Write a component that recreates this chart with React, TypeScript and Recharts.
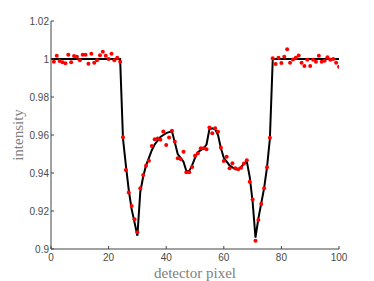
import React from 'react';
import { ComposedChart, Line, Scatter, XAxis, YAxis } from 'recharts';

const modelValues: number[] = [
  1, 1, 1, 1, 1, 1, 1, 1, 1, 1,
  1, 1, 1, 1, 1, 1, 1, 1, 1, 1,
  1, 1, 1, 1, 1, 0.958, 0.944, 0.931, 0.921, 0.914,
  0.907, 0.930, 0.938, 0.944, 0.948, 0.952, 0.955, 0.957, 0.959, 0.960,
  0.961, 0.9615, 0.962, 0.956, 0.950, 0.948, 0.946, 0.941, 0.941, 0.944,
  0.948, 0.951, 0.952, 0.953, 0.955, 0.963, 0.9635, 0.963, 0.960, 0.953,
  0.948, 0.946, 0.944, 0.943, 0.942, 0.942, 0.943, 0.945, 0.946, 0.938,
  0.925, 0.906, 0.916, 0.924, 0.932, 0.943, 0.958, 1, 1, 1,
  1, 1, 1, 1, 1, 1, 1, 1, 1, 1,
  1, 1, 1, 1, 1, 1, 1, 1, 1, 1,
  1,
];

const observedValues: number[] = [
  0.9986, 1.0017, 0.9990, 0.9983, 0.9977, 1.0023, 0.9983, 1.0016, 1.0012, 0.9993,
  1.0023, 1.0023, 0.9975, 1.0028, 0.9980, 0.9993, 1.0020, 1.0038, 1.0017, 1.0000,
  1.0028, 0.9993, 1.0007, 0.9986, 0.9588, 0.9416, 0.9298, 0.9226, 0.9156, 0.9088,
  0.9320, 0.9390, 0.9438, 0.9464, 0.9542, 0.9578, 0.9581, 0.9575, 0.9618, 0.9547,
  0.9587, 0.9623, 0.9565, 0.9477, 0.9474, 0.9512, 0.9404, 0.9404, 0.9432, 0.9491,
  0.9504, 0.9530, 0.9530, 0.9525, 0.9639, 0.9609, 0.9635, 0.9617, 0.9533, 0.9463,
  0.9486, 0.9425, 0.9451, 0.9425, 0.9420, 0.9427, 0.9450, 0.9467, 0.9354, 0.9261,
  0.9044, 0.9153, 0.9237, 0.9320, 0.9430, 0.9586, 1.0004, 0.9974, 1.0007, 0.9979,
  1.0012, 1.0051, 0.9980, 0.9998, 1.0007, 1.0019, 0.9980, 0.9963, 0.9996, 0.9963,
  0.9996, 0.9986, 1.0017, 0.9986, 0.9991, 1.0009, 0.9996, 1.0000, 0.9980, 0.9959,
];

const xTicks = [0, 20, 40, 60, 80, 100];
const yTicks = [0.9, 0.92, 0.94, 0.96, 0.98, 1, 1.02];

const modelData = modelValues.map((v, i) => ({ x: i, y: v }));
const observedData = observedValues.map((v, i) => ({ x: i + 1, y: v }));

const axisColor = '#444444';
const tickStyle = { fontSize: 10, fill: '#4a4a4a', fontFamily: 'Liberation Sans, Arial, sans-serif' };
const labelStyle = { fontFamily: 'Liberation Serif, Times New Roman, serif', fontSize: 15, fill: '#808080' };

const fmt = (v: number) => String(Number(v.toFixed(2)));

const RedDot = (props: any) => {
  const { cx, cy } = props;
  if (cx == null || cy == null) return null;
  return <circle cx={cx} cy={cy} r={2} fill="#ff0000" stroke="none" />;
};

export default function App() {
  return (
    <div style={{ position: 'absolute', left: 0, top: 0, width: 374, height: 281, background: '#fff' }}>
      <ComposedChart width={374} height={281} margin={{ top: 21, right: 35, bottom: 0, left: 0 }}>
        <XAxis
          dataKey="x"
          type="number"
          domain={[0, 100]}
          ticks={xTicks}
          allowDataOverflow
          height={32}
          stroke={axisColor}
          tickSize={-3}
          tickMargin={8}
          tick={tickStyle}
          label={{ value: 'detector pixel', position: 'insideBottom', offset: 3, style: labelStyle }}
        />
        <YAxis
          dataKey="y"
          type="number"
          domain={[0.9, 1.02]}
          ticks={yTicks}
          allowDataOverflow
          width={51}
          stroke={axisColor}
          tickSize={-3}
          tickMargin={5}
          tickFormatter={fmt}
          tick={tickStyle}
          label={{ value: 'intensity', angle: -90, position: 'insideLeft', offset: 18, style: { ...labelStyle, textAnchor: 'middle' } }}
        />
        <Line
          data={modelData}
          dataKey="y"
          stroke="#000000"
          strokeWidth={2}
          dot={false}
          activeDot={false}
          type="linear"
          isAnimationActive={false}
        />
        <Scatter
          data={observedData}
          dataKey="y"
          shape={RedDot}
          isAnimationActive={false}
        />
      </ComposedChart>
    </div>
  );
}
